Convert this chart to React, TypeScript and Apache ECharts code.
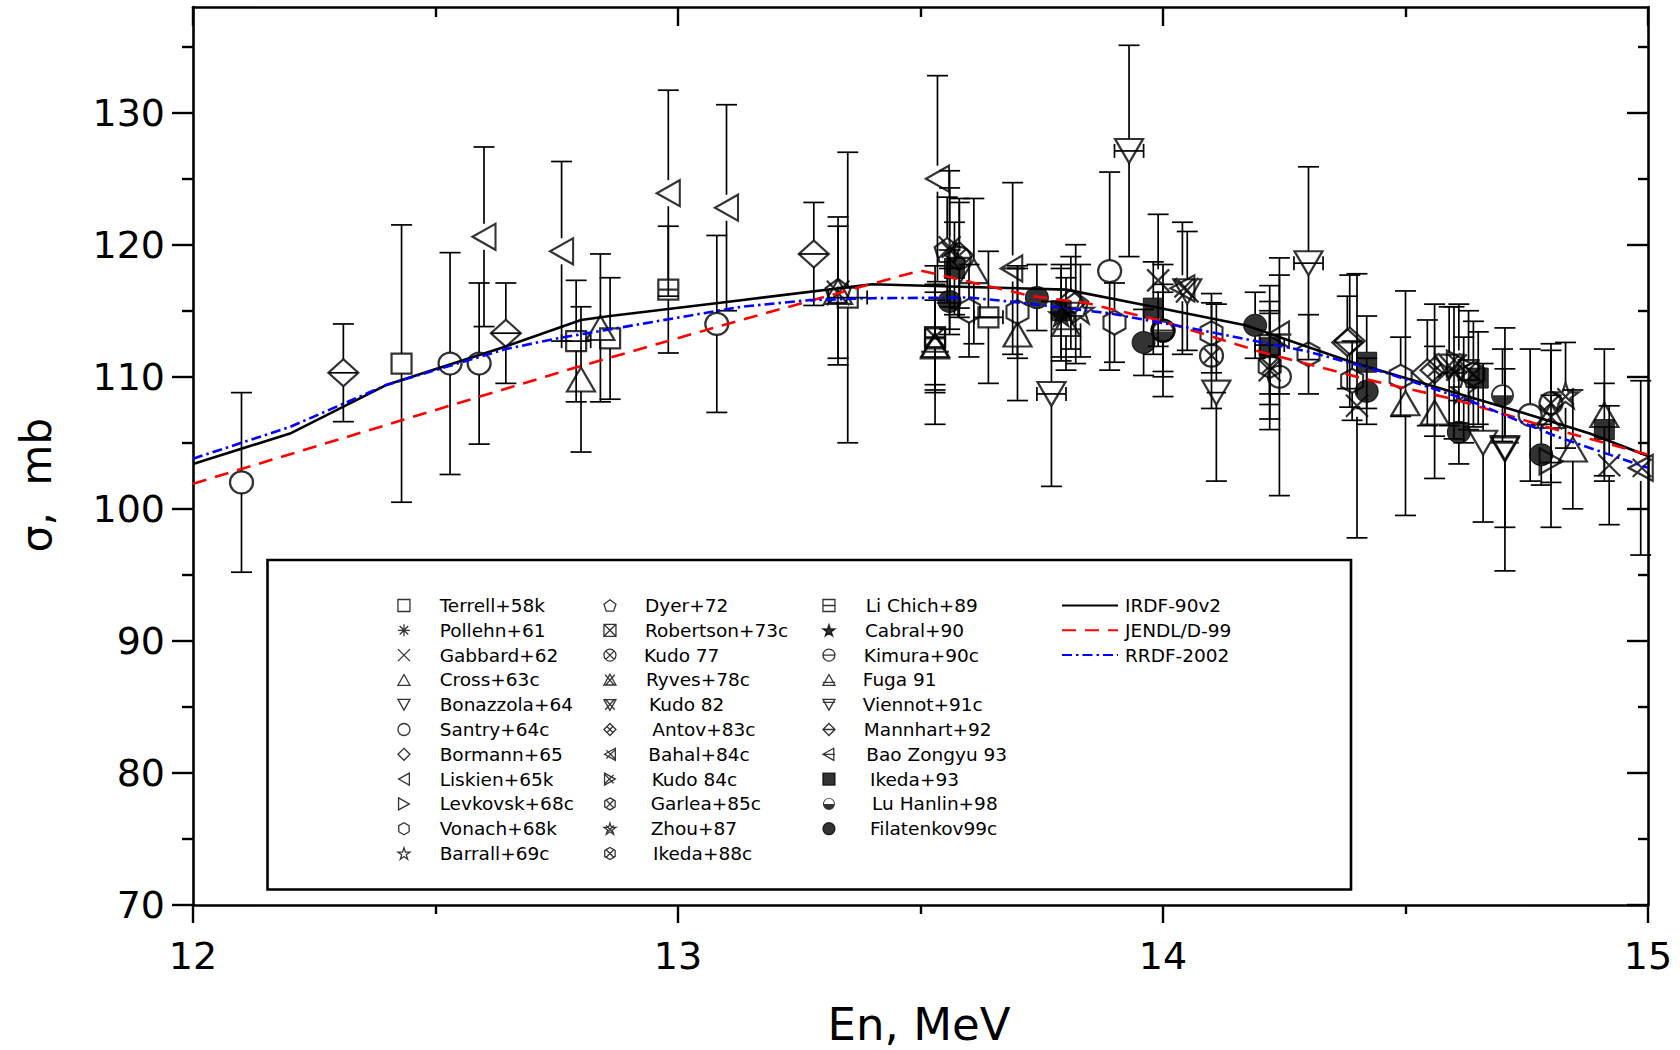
import React, { useEffect, useRef } from 'react';
import * as echarts from 'echarts';

// ---------- evaluated curves ----------
const irdfE = [12.0, 12.2, 12.4, 12.645, 12.8, 12.86, 13.13, 13.4, 13.6, 13.8, 13.98, 14.17, 14.39, 14.74, 14.88, 15.0];
const irdfS = [103.4, 105.7, 109.4, 112.3, 114.3, 114.6, 115.8, 117.0, 116.8, 116.6, 115.3, 113.9, 111.1, 107.3, 105.7, 104.0];
const jendlE = [12.0, 12.43, 12.78, 13.13, 13.5, 13.73, 13.84, 14.0, 14.2, 14.42, 14.6, 14.81, 15.0];
const jendlS = [101.9, 106.7, 110.6, 114.3, 118.05, 116.1, 115.6, 114.2, 111.9, 109.8, 108.3, 106.0, 104.1];
const rrdfE = [12.0, 12.2, 12.4, 12.645, 12.75, 13.13, 13.27, 13.4, 13.6, 13.71, 13.89, 14.04, 14.3, 14.46, 14.635, 14.81, 15.0];
const rrdfS = [103.8, 106.2, 109.4, 112.1, 112.9, 115.3, 115.8, 115.95, 116.0, 115.6, 114.8, 113.8, 111.9, 110.3, 108.15, 105.5, 103.1];

// ---------- experimental data: [E (MeV), sigma (mb), dSigma, dE] ----------
const terrell = [[12.43, 111.0, 10.5, 0], [12.79, 112.7, 4.6, 0.03], [12.86, 112.9, 4.6, 0], [13.35, 116.0, 11.0, 0.04], [14.22, 112.4, 4.5, 0.03]];
const pollehn = [[13.56, 119.6, 6.0, 0], [14.6, 110.3, 5.0, 0]];
const gabbard = [[13.56, 119.8, 4.5, 0], [13.99, 117.3, 5.0, 0], [14.22, 110.5, 4.5, 0], [14.40, 107.8, 10.0, 0], [14.92, 103.3, 4.5, 0]];
const cross = [[12.80, 109.8, 5.5, 0], [12.84, 113.7, 5.6, 0], [13.53, 112.4, 6.0, 0], [13.61, 118.0, 5.5, 0], [13.70, 113.2, 5.0, 0], [14.50, 108.0, 8.5, 0], [14.56, 107.3, 5.0, 0], [14.845, 104.5, 4.5, 0], [14.91, 107.1, 5.0, 0]];
const bonazzola = [[13.77, 108.7, 7.0, 0.03], [13.93, 127.1, 8.0, 0.03], [14.11, 108.8, 6.7, 0.02], [14.30, 118.6, 7.3, 0.03], [14.705, 104.5, 9.2, 0], [14.66, 105.0, 6.0, 0]];
const santry = [[12.10, 102.0, 6.8, 0], [12.53, 111.0, 8.4, 0], [12.59, 111.0, 6.1, 0], [13.08, 114.0, 6.7, 0], [13.89, 118.0, 7.5, 0], [14.00, 113.5, 5.0, 0], [14.24, 110.0, 9.0, 0], [14.757, 107.1, 5.0, 0]];
const bormann = [[12.31, 110.3, 3.7, 0.03], [12.645, 113.3, 3.8, 0.03], [13.28, 119.3, 3.9, 0.03], [14.385, 112.7, 5.0, 0], [14.545, 110.3, 4.0, 0]];
const liskien = [[12.60, 120.6, 6.8, 0], [12.76, 119.5, 6.8, 0], [12.98, 123.9, 7.8, 0], [13.10, 122.8, 7.8, 0], [13.535, 125.0, 7.8, 0]];
const levkovsk = [[14.80, 103.6, 5.0, 0]];
const vonach = [[13.60, 115.0, 3.5, 0], [13.70, 114.9, 3.5, 0], [13.90, 114.1, 3.0, 0], [14.10, 113.3, 3.0, 0], [14.30, 111.7, 3.0, 0], [14.39, 109.7, 3.0, 0], [14.49, 110.0, 3.0, 0]];
const barrall = [[13.83, 115.0, 3.5, 0], [14.62, 109.0, 4.0, 0]];
const dyer = [[13.33, 116.5, 5.6, 0], [13.555, 119.6, 4.0, 0], [13.82, 115.5, 4.5, 0]];
const robertson = [[13.53, 113.0, 4.0, 0.02], [14.63, 110.5, 4.5, 0]];
const kudo77 = [[14.10, 111.6, 4.0, 0], [14.80, 108.0, 4.5, 0]];
const ryves = [[13.33, 116.4, 5.0, 0], [14.80, 107.0, 5.0, 0]];
const kudo82 = [[14.05, 116.5, 4.5, 0], [14.59, 110.8, 4.5, 0]];
const antov = [[13.58, 119.2, 4.0, 0], [14.56, 110.5, 5.0, 0]];
const bahal = [[14.04, 116.7, 5.0, 0], [14.985, 103.1, 6.6, 0]];
const kudo84 = [[14.61, 111.0, 4.5, 0]];
const garlea = [[14.64, 110.2, 4.0, 0]];
const zhou = [[14.83, 108.6, 4.0, 0]];
const ikeda88 = [[14.22, 110.8, 4.0, 0]];
const liChich = [[12.98, 116.6, 4.8, 0], [13.64, 114.5, 5.0, 0.03], [13.53, 112.9, 3.5, 0]];
const cabral = [[13.79, 114.7, 3.5, 0]];
const kimura = [[13.58, 119.0, 4.5, 0], [14.00, 113.5, 3.5, 0]];
const fuga = [[13.53, 112.3, 3.5, 0], [13.80, 114.0, 3.5, 0]];
const viennot = [[14.705, 104.6, 6.0, 0]];
const mannhart = [[14.38, 112.6, 3.5, 0], [13.81, 115.6, 3.5, 0]];
const baoZongyu = [[13.69, 118.2, 6.5, 0], [14.24, 113.2, 4.5, 0]];
const ikeda93 = [[13.57, 118.2, 3.5, 0], [13.79, 115.0, 3.5, 0], [13.98, 115.2, 3.5, 0], [14.22, 112.2, 3.5, 0], [14.42, 111.1, 3.5, 0], [14.65, 109.9, 3.5, 0], [14.91, 106.0, 3.5, 0]];
const luHanlin = [[14.70, 108.6, 3.5, 0], [14.00, 113.4, 3.0, 0]];
const filatenkov = [[13.56, 115.7, 2.5, 0], [13.74, 116.0, 2.5, 0], [13.96, 112.6, 2.5, 0], [14.19, 113.9, 2.5, 0], [14.42, 108.9, 2.5, 0], [14.61, 105.8, 2.4, 0], [14.78, 104.1, 2.3, 0]];

// ---------- axis ticks ----------
const xMajor = [12, 13, 14, 15];
const xMinor = [12.5, 13.5, 14.5];
const yMajor = [70, 80, 90, 100, 110, 120, 130];
const yMinor = [75, 85, 95, 105, 115, 125, 135];

// ---------- symbols ----------
const SQ = 'M0,0L20,0L20,20L0,20Z';
const CIR = 'M0,10A10,10,0,1,1,20,10A10,10,0,1,1,0,10Z';
const TRU = 'M10,0L20,18L0,18Z';
const TRD = 'M0,0L20,0L10,18Z';
const DIA = 'M10,0L20,10L10,20L0,10Z';
const TRL = 'M0,10L18,0L18,20Z';
const TRR = 'M0,0L18,10L0,20Z';
const HEX = 'M10,0L18.66,5L18.66,15L10,20L1.34,15L1.34,5Z';
const STAR = 'M10,0L12.25,6.91L19.51,6.91L13.63,11.18L15.88,18.09L10,13.82L4.12,18.09L6.37,11.18L0.49,6.91L7.75,6.91Z';
const PENT = 'M10,0L19.51,6.91L15.88,18.09L4.12,18.09L0.49,6.91Z';
const XIN = 'M3,3L17,17M17,3L3,17';
const p = (d: string) => 'path://' + d;

const SYM = {
  square: p(SQ),
  aster: p('M10,0L10,20M0,10L20,10M2.9,2.9L17.1,17.1M17.1,2.9L2.9,17.1'),
  x: p('M0,0L20,20M20,0L0,20'),
  triU: p(TRU), triD: p(TRD), circle: p(CIR), diamond: p(DIA), triL: p(TRL), triR: p(TRR),
  hex: p(HEX), star: p(STAR), pent: p(PENT),
  sqX: p(SQ + 'M0,0L20,20M20,0L0,20'),
  cirX: p(CIR + 'M2.93,2.93L17.07,17.07M17.07,2.93L2.93,17.07'),
  triUX: p(TRU + 'M2,1L18,19M18,1L2,19'),
  triDX: p(TRD + 'M2,-1L18,17M18,-1L2,17'),
  diaX: p(DIA + 'M5,5L15,15M15,5L5,15'),
  triLX: p(TRL + XIN),
  triRX: p(TRR + 'M1,3L15,17M15,3L1,17'),
  hexX: p(HEX + XIN),
  starX: p(STAR + 'M4,4L16,16M16,4L4,16'),
  sqL: p(SQ + 'M0,10L20,10'),
  cirL: p(CIR + 'M0,10L20,10'),
  triUL: p(TRU + 'M0,13L20,13'),
  triDL: p(TRD + 'M0,5L20,5'),
  diaL: p(DIA + 'M0,10L20,10'),
  triLL: p(TRL + 'M0,10L20,10'),
  half: p('M0,10A10,10,0,1,1,20,10A10,10,0,1,1,0,10Z M1.6,10A8.4,8.4,0,1,0,18.4,10A8.4,8.4,0,1,0,1.6,10Z M19,10A9,9,0,0,1,1,10Z'),
};

type DS = { name: string; data: number[][]; symbol: string; size: number[]; kind?: 'fill' | 'solid' };
const DATASETS: DS[] = [
  { name: 'Terrell+58k', data: terrell, symbol: SYM.square, size: [20, 20] },
  { name: 'Pollehn+61', data: pollehn, symbol: SYM.aster, size: [22, 22] },
  { name: 'Gabbard+62', data: gabbard, symbol: SYM.x, size: [22, 22] },
  { name: 'Cross+63c', data: cross, symbol: SYM.triU, size: [28, 24] },
  { name: 'Bonazzola+64', data: bonazzola, symbol: SYM.triD, size: [28, 24] },
  { name: 'Santry+64c', data: santry, symbol: SYM.circle, size: [23, 22] },
  { name: 'Bormann+65', data: bormann, symbol: SYM.diamond, size: [30, 27] },
  { name: 'Liskien+65k', data: liskien, symbol: SYM.triL, size: [23, 26] },
  { name: 'Levkovsk+68c', data: levkovsk, symbol: SYM.triR, size: [23, 26] },
  { name: 'Vonach+68k', data: vonach, symbol: SYM.hex, size: [22, 24] },
  { name: 'Barrall+69c', data: barrall, symbol: SYM.star, size: [26, 25] },
  { name: 'Dyer+72', data: dyer, symbol: SYM.pent, size: [25, 24] },
  { name: 'Robertson+73c', data: robertson, symbol: SYM.sqX, size: [20, 20] },
  { name: 'Kudo 77', data: kudo77, symbol: SYM.cirX, size: [23, 22] },
  { name: 'Ryves+78c', data: ryves, symbol: SYM.triUX, size: [28, 26] },
  { name: 'Kudo 82', data: kudo82, symbol: SYM.triDX, size: [28, 26] },
  { name: 'Antov+83c', data: antov, symbol: SYM.diaX, size: [28, 26] },
  { name: 'Bahal+84c', data: bahal, symbol: SYM.triLX, size: [24, 26] },
  { name: 'Kudo 84c', data: kudo84, symbol: SYM.triRX, size: [24, 26] },
  { name: 'Garlea+85c', data: garlea, symbol: SYM.hexX, size: [22, 24] },
  { name: 'Zhou+87', data: zhou, symbol: SYM.starX, size: [26, 25] },
  { name: 'Ikeda+88c', data: ikeda88, symbol: SYM.hexX, size: [22, 24] },
  { name: 'Li Chich+89', data: liChich, symbol: SYM.sqL, size: [20, 20] },
  { name: 'Cabral+90', data: cabral, symbol: SYM.star, size: [26, 25], kind: 'fill' },
  { name: 'Kimura+90c', data: kimura, symbol: SYM.cirL, size: [23, 22] },
  { name: 'Fuga 91', data: fuga, symbol: SYM.triUL, size: [28, 24] },
  { name: 'Viennot+91c', data: viennot, symbol: SYM.triDL, size: [28, 24] },
  { name: 'Mannhart+92', data: mannhart, symbol: SYM.diaL, size: [30, 27] },
  { name: 'Bao Zongyu 93', data: baoZongyu, symbol: SYM.triLL, size: [24, 26] },
  { name: 'Ikeda+93', data: ikeda93, symbol: SYM.square, size: [20, 20], kind: 'fill' },
  { name: 'Lu Hanlin+98', data: luHanlin, symbol: SYM.half, size: [23, 22], kind: 'solid' },
  { name: 'Filatenkov99c', data: filatenkov, symbol: SYM.circle, size: [23, 22], kind: 'fill' },
];

// small per-entry shifts of the legend texts, as in the reference
const col2Shift = [0, 0, -1, 1, 4, 7.4, 3.4, 6.7, 5.7, 5.7, 8];
const col3Shift = [0, -0.7, -1.8, -2.9, -2.9, -1.8, 0.7, 4.3, 6.4, 4.3];

const CURVES = [
  { name: 'IRDF-90v2', e: irdfE, s: irdfS, color: '#000000', type: 'solid' as any },
  { name: 'JENDL/D-99', e: jendlE, s: jendlS, color: '#ff0000', type: [14, 9] as any },
  { name: 'RRDF-2002', e: rrdfE, s: rrdfS, color: '#0000ff', type: [10, 4, 2.5, 4] as any },
];

const FONT = 'DejaVu Sans';

function buildOption() {
  const errData: number[][] = [];
  DATASETS.forEach((d) => {
    d.data.forEach((pt) => errData.push([pt[0], pt[1], pt[2], pt[3] || 0, d.size[1] / 2, d.size[0] / 2]));
  });

  const errSeries = {
    type: 'custom',
    name: '__err',
    coordinateSystem: 'cartesian2d',
    xAxisIndex: 0,
    yAxisIndex: 0,
    silent: true,
    z: 2,
    encode: { x: 0, y: 1 },
    data: errData,
    renderItem: (_params: any, api: any) => {
      const E = api.value(0), s = api.value(1), ds = api.value(2), dE = api.value(3), hh = api.value(4), hw = api.value(5);
      const c = api.coord([E, s]);
      const top = api.coord([E, s + ds]);
      const bot = api.coord([E, s - ds]);
      const cap = 10.5;
      const st = () => ({ stroke: '#000', lineWidth: 1.7, fill: 'none' });
      const ch: any[] = [];
      if (c[1] - top[1] > hh) {
        ch.push({ type: 'line', shape: { x1: c[0], y1: c[1] - hh, x2: c[0], y2: top[1] }, style: st() });
        ch.push({ type: 'line', shape: { x1: c[0] - cap, y1: top[1], x2: c[0] + cap, y2: top[1] }, style: st() });
      }
      if (bot[1] - c[1] > hh) {
        ch.push({ type: 'line', shape: { x1: c[0], y1: c[1] + hh, x2: c[0], y2: bot[1] }, style: st() });
        ch.push({ type: 'line', shape: { x1: c[0] - cap, y1: bot[1], x2: c[0] + cap, y2: bot[1] }, style: st() });
      }
      if (dE > 0) {
        const l = api.coord([E - dE, s]);
        const r = api.coord([E + dE, s]);
        ch.push({ type: 'line', shape: { x1: l[0], y1: c[1], x2: r[0], y2: c[1] }, style: st() });
        if (c[0] - l[0] > hw) {
          ch.push({ type: 'line', shape: { x1: l[0], y1: c[1] - 7, x2: l[0], y2: c[1] + 7 }, style: st() });
          ch.push({ type: 'line', shape: { x1: r[0], y1: c[1] - 7, x2: r[0], y2: c[1] + 7 }, style: st() });
        }
      }
      return { type: 'group', children: ch };
    },
  };

  const scatterSeries = DATASETS.map((d) => ({
    type: 'scatter',
    name: d.name,
    xAxisIndex: 0,
    yAxisIndex: 0,
    data: d.data.map((pt) => [pt[0], pt[1]]),
    symbol: d.symbol,
    symbolSize: d.size,
    z: 3,
    silent: true,
    itemStyle:
      d.kind === 'fill'
        ? { color: '#000', borderColor: '#000', borderWidth: 1 }
        : d.kind === 'solid'
        ? { color: '#000', borderColor: 'rgba(0,0,0,0)', borderWidth: 0 }
        : { color: 'rgba(0,0,0,0)', borderColor: '#000', borderWidth: 2.2 },
  }));

  const lineSeries = CURVES.map((c) => ({
    type: 'line',
    name: c.name,
    xAxisIndex: 0,
    yAxisIndex: 0,
    data: c.e.map((e, i) => [e, c.s[i]]),
    symbol: 'none',
    showSymbol: false,
    smooth: false,
    z: 4,
    silent: true,
    lineStyle: { color: c.color, width: 2.6, type: c.type },
    itemStyle: { color: c.color },
  }));

  const axisLine = { show: true, lineStyle: { color: '#000', width: 2.6 } };
  const noLine = { show: false };
  const tickStyle = { color: '#000', width: 2.4 };
  const labelStyle = { color: '#000', fontFamily: FONT, fontSize: 38 };

  const xCommon = { type: 'value', min: 12, max: 15, splitLine: { show: false } };
  const yCommon = { type: 'value', min: 70, max: 138, splitLine: { show: false } };

  const xAxis = [
    { ...xCommon, position: 'bottom', interval: 1, axisLine,
      axisTick: { show: true, inside: false, length: 18, lineStyle: tickStyle, customValues: xMajor },
      axisLabel: { show: true, margin: 32, ...labelStyle, customValues: xMajor } },
    { ...xCommon, position: 'bottom', axisLine: noLine,
      axisTick: { show: true, inside: false, length: 9, lineStyle: tickStyle, customValues: xMinor },
      axisLabel: { show: false } },
    { ...xCommon, position: 'top', axisLine,
      axisTick: { show: true, inside: true, length: 19, lineStyle: tickStyle, customValues: xMajor },
      axisLabel: { show: false } },
    { ...xCommon, position: 'top', axisLine: noLine,
      axisTick: { show: true, inside: true, length: 10, lineStyle: tickStyle, customValues: xMinor },
      axisLabel: { show: false } },
  ];
  const yAxis = [
    { ...yCommon, position: 'left', interval: 10, axisLine,
      axisTick: { show: true, inside: false, length: 21, lineStyle: tickStyle, customValues: yMajor },
      axisLabel: { show: true, margin: 28, ...labelStyle, customValues: yMajor } },
    { ...yCommon, position: 'left', axisLine: noLine,
      axisTick: { show: true, inside: false, length: 11, lineStyle: tickStyle, customValues: yMinor },
      axisLabel: { show: false } },
    { ...yCommon, position: 'right', axisLine,
      axisTick: { show: true, inside: true, length: 21, lineStyle: tickStyle, customValues: yMajor },
      axisLabel: { show: false } },
    { ...yCommon, position: 'right', axisLine: noLine,
      axisTick: { show: true, inside: true, length: 10, lineStyle: tickStyle, customValues: yMinor },
      axisLabel: { show: false } },
  ];

  const names = DATASETS.map((d) => d.name);
  const txt = (pad: number) => ({ fontFamily: FONT, fontSize: 18.5, color: '#000', lineHeight: 18, padding: [0, 0, 0, pad] });
  const legendBase = {
    orient: 'vertical',
    itemWidth: 12,
    itemHeight: 12,
    itemGap: 5.8,
    padding: 0,
    top: 596,
    selectedMode: false,
    z: 10,
    itemStyle: { borderWidth: 1.3 },
    textStyle: txt(24.7),
  };
  const legend = [
    { ...legendBase, left: 397.3, data: names.slice(0, 11) },
    { ...legendBase, left: 603.3, textStyle: txt(24),
      data: names.slice(11, 22).map((n, i) => ({ name: n, textStyle: txt(24 + col2Shift[i]) })) },
    { ...legendBase, left: 822.3, textStyle: txt(25.7),
      data: names.slice(22).map((n, i) => ({ name: n, textStyle: txt(25.7 + col3Shift[i]) })) },
    { ...legendBase, left: 1061, itemWidth: 56, itemHeight: 14, itemStyle: { opacity: 0, borderWidth: 0 },
      data: CURVES.map((c) => c.name), textStyle: txt(2) },
  ];

  return {
    animation: false,
    backgroundColor: '#ffffff',
    grid: { left: 193, right: 32, top: 7, bottom: 145, containLabel: false },
    xAxis,
    yAxis,
    legend,
    graphic: [
      { type: 'rect', z: 1, shape: { x: 267.5, y: 560, width: 1083.5, height: 329.5 }, style: { fill: '#fff', stroke: '#000', lineWidth: 2.6 } },
      { type: 'text', z: 5, x: 919, y: 1024, style: { text: 'En, MeV', fill: '#000', font: `45px "${FONT}"`, fontSize: 45, fontFamily: FONT, textAlign: 'center', textVerticalAlign: 'middle', align: 'center', verticalAlign: 'middle' } },
      { type: 'text', z: 5, x: 36, y: 485, rotation: Math.PI / 2, style: { text: 'σ,  mb', fill: '#000', font: `42px "${FONT}"`, fontSize: 42, fontFamily: FONT, textAlign: 'center', textVerticalAlign: 'middle', align: 'center', verticalAlign: 'middle' } },
    ],
    series: [errSeries, ...scatterSeries, ...lineSeries],
  };
}

export default function App() {
  const ref = useRef<HTMLDivElement>(null);
  useEffect(() => {
    if (!ref.current) return;
    const chart = echarts.init(ref.current, undefined, { renderer: 'svg' });
    chart.setOption(buildOption() as any);
    return () => chart.dispose();
  }, []);
  return <div ref={ref} style={{ position: 'fixed', left: 0, top: 0, width: 1680, height: 1050, background: '#fff' }} />;
}
